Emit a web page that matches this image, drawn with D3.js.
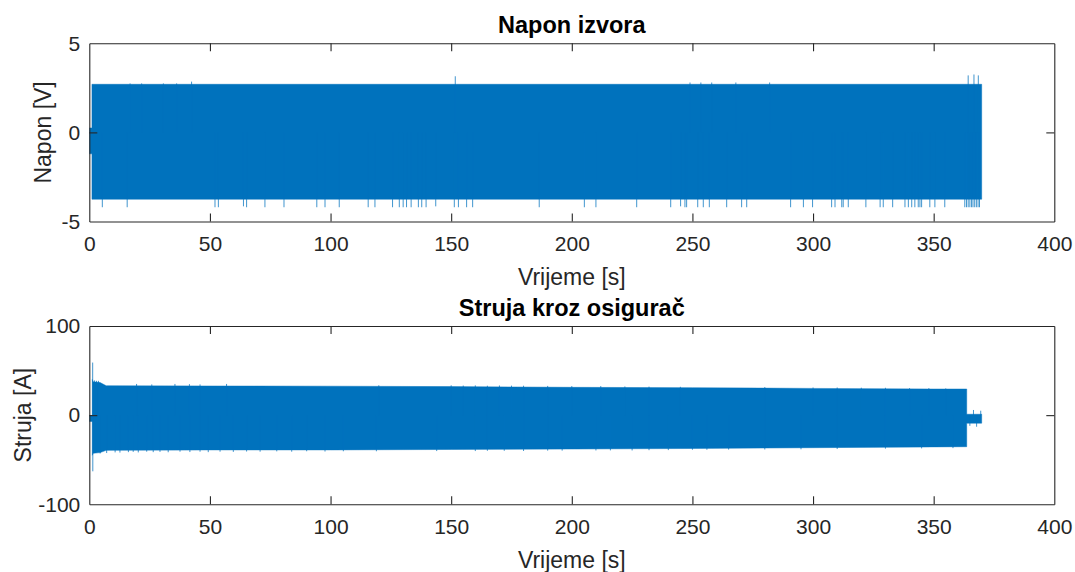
<!DOCTYPE html>
<html>
<head>
<meta charset="utf-8">
<script src="https://cdn.jsdelivr.net/npm/d3@7"></script>
<style>
    body { margin: 0; background: #fff; }
    svg text { font-family: "Liberation Sans", Arial, Helvetica, sans-serif; fill: #262626; }
</style>
</head>
<body>
<svg id="chart" width="1075" height="572"></svg>
<script>
// Tick labels
const timeTicks = [0, 50, 100, 150, 200, 250, 300, 350, 400];
const voltTicks = [-5, 0, 5];
const curTicks = [-100, 0, 100];

// Napon izvora - envelope of the dense signal (min / max per time)
const voltTime = [0, 1.1, 1.1, 369.9];
const voltMax = [0.25, 0.25, 2.7, 2.7];
const voltMin = [-1.2, -1.2, -3.75, -3.75];

// isolated peaks outside the envelope
const voltSpikeT = [5.4, 15.7, 52.1, 53.5, 63.9, 65.2, 72.8, 80.7, 94.3, 97.7, 103.6, 115.6, 118.4, 125.7,
    128.5, 130.1, 131.5, 133.4, 136.4, 137.8, 139.6, 143.6, 151.3, 153.0, 156.4, 158.9, 186.5, 205.2, 210.0,
    226.9, 241.0, 245.1, 246.9, 247.6, 252.2, 254.5, 257.0, 264.2, 270.4, 272.5, 290.7, 296.0, 299.8, 307.7,
    309.1, 311.9, 312.5, 314.6, 321.9, 327.8, 329.1, 333.0, 338.1, 339.5, 340.9, 342.2, 343.6, 344.3, 345.0,
    348.4, 350.5, 354.6, 362.9, 363.6, 364.3, 365.0, 365.7, 366.3, 367.0, 367.7, 368.4, 369.0,
    16.9, 21.7, 30.7, 36.2, 42.4, 151.7, 249.0, 253.5, 258.0, 268.0, 282.0, 364.3, 366.7, 368.5];
const voltSpikeV = [-4.2, -4.2, -4.2, -4.2, -4.15, -4.2, -4.2, -4.2, -4.2, -4.2, -4.2, -4.2, -4.2, -4.2,
    -4.2, -4.2, -4.2, -4.2, -4.2, -4.2, -4.2, -4.15, -4.2, -4.2, -4.2, -4.2, -4.2, -4.2, -4.2,
    -4.2, -4.2, -4.15, -4.2, -4.2, -4.2, -4.2, -4.2, -4.2, -4.2, -4.2, -4.2, -4.2, -4.2, -4.2,
    -4.2, -4.2, -4.2, -4.2, -4.2, -4.2, -4.2, -4.2, -4.2, -4.2, -4.2, -4.2, -4.2, -4.2, -4.2,
    -4.2, -4.2, -4.2, -4.2, -4.2, -4.2, -4.2, -4.2, -4.2, -4.2, -4.2, -4.2, -4.2,
    2.75, 2.75, 2.75, 2.75, 2.85, 3.15, 2.8, 2.8, 2.8, 2.8, 2.8, 3.2, 3.25, 3.2];

// Struja kroz osigurač - envelope
const curTime = [0, 1.25, 1.25, 1.6, 4.5, 7, 50, 100, 150, 200, 250, 300, 350, 363.7, 363.7, 369.9];
const curMax = [-0.5, -0.5, 40, 37.5, 36.5, 33, 32.7, 32.5, 32, 31.2, 30.8, 30, 29.3, 29.3, 1, 1];
const curMin = [-7, -7, -45, -42.8, -42, -39.5, -39, -39, -38.5, -38, -37.4, -36.5, -35.6, -35.4, -9, -9];

// peaks at the edges of the current band
const curSpikeT = [1.4, 1.45, 365.0, 366.5, 367.8, 369.5,
    2.2, 3.0, 3.8, 19.6, 25.9, 35.5, 41.5, 45.9, 56.9, 120, 150, 155, 160, 165, 170, 175, 180, 190, 200,
    212, 222, 232, 245, 280, 300, 310, 320, 330, 340, 348, 355,
    4.5, 7.2, 10.7, 12.7, 16.2, 18.2, 20.3, 23.8, 26.5, 29.3, 32.7, 37.6, 41.7, 45.9, 49.3, 54.2, 59.7,
    65.2, 70.8, 77.7, 83.9, 90.1, 97.7, 105.3, 119, 144, 160, 165, 172, 180, 190, 196, 210, 216, 225,
    232, 240, 250, 256, 265, 280, 295, 310, 330, 345, 358];
const curSpikeV = [59, -63, -12, 5.8, -13, 5,
    39, 38.5, 38.5, 35, 34.5, 35, 34.8, 34.5, 35, 33.5, 33.5, 33.2, 33.4, 33, 33.3, 33.1, 33, 32.8, 32.6,
    32.6, 32.2, 32.0, 31.8, 31.5, 31, 31, 30.8, 30.7, 30.3, 30.3, 30.0,
    -43, -42.5, -41.8, -42, -41.5, -41.2, -41.8, -41, -41.5, -41.2, -41.6, -41, -41.4, -41, -41.5, -41, -41.2,
    -40.8, -41, -40.6, -41, -40.5, -40.8, -40.5, -40.5, -40.3, -40.3, -40, -40, -40.2, -39.8, -39.8, -39.6,
    -39.5, -39.6, -39.3, -39.2, -38.8, -38.8, -38.6, -38.5, -38.3, -38, -37.6, -37.3, -37];

const lineColor = "#0072BD";
const axisColor = "#262626";

const svg = d3.select("#chart");
const left = 89.3, right = 1054.3;

function drawPanel(cfg) {
    const x = d3.scaleLinear().domain([0, 400]).range([left, right]);
    const y = d3.scaleLinear().domain(cfg.yDomain).range([cfg.bottom, cfg.top]);

    const clipId = "clip" + cfg.id;
    svg.append("clipPath").attr("id", clipId)
        .append("rect")
        .attr("x", left).attr("y", cfg.top)
        .attr("width", right - left).attr("height", cfg.bottom - cfg.top);

    const g = svg.append("g").attr("clip-path", `url(#${clipId})`);

    // dense signal drawn as its envelope
    const band = cfg.time.map((t, i) => ({ t: t, hi: cfg.max[i], lo: cfg.min[i] }));
    const area = d3.area()
        .x(d => x(d.t))
        .y0(d => y(d.lo))
        .y1(d => y(d.hi));
    g.append("path")
        .datum(band)
        .attr("d", area)
        .attr("fill", lineColor)
        .attr("stroke", lineColor)
        .attr("stroke-width", 0.8)
        .attr("stroke-opacity", 0.6);

    // single peaks
    const spikes = cfg.spikeT.map((t, i) => ({ t: t, v: cfg.spikeV[i] }));
    g.selectAll(".spike")
        .data(spikes)
        .enter()
        .append("line")
        .attr("x1", d => x(d.t))
        .attr("x2", d => x(d.t))
        .attr("y1", y(0))
        .attr("y2", d => y(d.v))
        .attr("stroke", lineColor)
        .attr("stroke-width", 1)
        .attr("stroke-opacity", 0.75);

    // axes with inward ticks (box on)
    const tickLen = 8;
    const xAxis = svg.append("g")
        .attr("transform", `translate(0,${cfg.bottom})`)
        .call(d3.axisBottom(x).tickValues(timeTicks).tickSize(-tickLen).tickPadding(14.5).tickSizeOuter(0));
    const xTop = svg.append("g")
        .attr("transform", `translate(0,${cfg.top})`)
        .call(d3.axisTop(x).tickValues(timeTicks).tickSize(-tickLen).tickFormat("").tickSizeOuter(0));
    const yAxis = svg.append("g")
        .attr("transform", `translate(${left},0)`)
        .call(d3.axisLeft(y).tickValues(cfg.yTicks).tickSize(-tickLen).tickPadding(9).tickSizeOuter(0));
    const yRight = svg.append("g")
        .attr("transform", `translate(${right},0)`)
        .call(d3.axisRight(y).tickValues(cfg.yTicks).tickSize(-tickLen).tickFormat("").tickSizeOuter(0));

    [xAxis, xTop, yAxis, yRight].forEach(a => {
        a.selectAll("path.domain").attr("stroke", axisColor).attr("stroke-width", 1.1);
        a.selectAll(".tick line").attr("stroke", axisColor).attr("stroke-width", 1.1);
        a.selectAll(".tick text")
            .attr("font-size", "21px")
            .attr("fill", axisColor)
            .attr("font-family", "Liberation Sans, Arial, sans-serif");
    });
    // remove the 0 / 400 tick marks that sit on the box corners
    xAxis.selectAll(".tick line").filter(d => d === 0 || d === 400).remove();
    xTop.selectAll(".tick line").filter(d => d === 0 || d === 400).remove();
    yAxis.selectAll(".tick line").filter((d, i) => i !== 1).remove();
    yRight.selectAll(".tick line").filter((d, i) => i !== 1).remove();
    yAxis.selectAll(".tick text").text(d => d < 0 ? "-" + Math.abs(d) : d);

    // title and labels
    svg.append("text")
        .attr("x", (left + right) / 2)
        .attr("y", cfg.titleY)
        .attr("text-anchor", "middle")
        .attr("font-size", "23.5px")
        .attr("font-weight", "bold")
        .style("fill", "#000")
        .text(cfg.title);

    svg.append("text")
        .attr("x", (left + right) / 2)
        .attr("y", cfg.bottom + 63.5)
        .attr("text-anchor", "middle")
        .attr("font-size", "23px")
        .text("Vrijeme [s]");

    svg.append("text")
        .attr("transform", `translate(${cfg.yLabelX},${(cfg.top + cfg.bottom) / 2}) rotate(-90)`)
        .attr("text-anchor", "middle")
        .attr("font-size", "23px")
        .text(cfg.yLabel);
}

drawPanel({
    id: 1, top: 43.3, bottom: 221.5, yDomain: [-5, 5], yTicks: voltTicks,
    time: voltTime, max: voltMax, min: voltMin, spikeT: voltSpikeT, spikeV: voltSpikeV,
    title: "Napon izvora", titleY: 33, yLabel: "Napon [V]", yLabelX: 51
});

drawPanel({
    id: 2, top: 326, bottom: 504.3, yDomain: [-100, 100], yTicks: curTicks,
    time: curTime, max: curMax, min: curMin, spikeT: curSpikeT, spikeV: curSpikeV,
    title: "Struja kroz osigurač", titleY: 316, yLabel: "Struja [A]", yLabelX: 30.5
});
</script>
</body>
</html>
